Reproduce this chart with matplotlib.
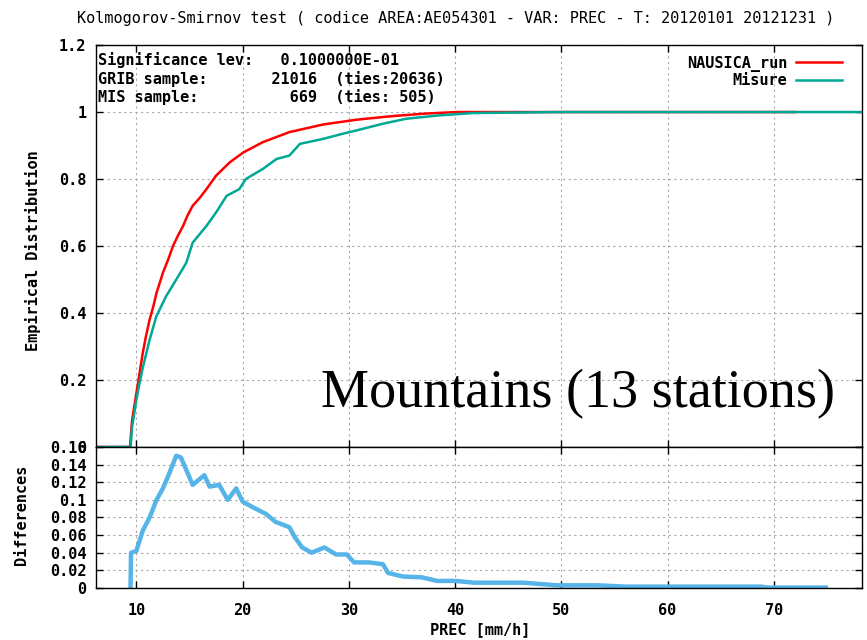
import matplotlib
matplotlib.use("Agg")
import matplotlib.pyplot as plt

# ECDF
run_x = [6.2, 9.4, 9.6, 9.8, 10.0, 10.3, 10.6, 10.9, 11.25, 11.6, 11.9, 12.2, 12.5, 13.0, 13.45,
         13.9, 14.4, 14.8, 15.3, 16.0, 16.6, 17.5, 18.8, 20.1, 21.9, 24.4, 27.6, 30.7,
         33.8, 37.0, 40.1, 72.0]
run_y = [0.0, 0.0, 0.08, 0.12, 0.16, 0.22, 0.28, 0.33, 0.38, 0.42, 0.46, 0.49, 0.52, 0.56, 0.60,
         0.63, 0.66, 0.69, 0.72, 0.745, 0.77, 0.81, 0.85, 0.88, 0.91, 0.94, 0.963, 0.977,
         0.987, 0.995, 1.0, 1.0]

mis_x = [6.2, 9.45, 9.6, 9.8, 10.0, 10.3, 10.63, 11.25, 11.88, 12.8, 13.76, 14.7, 15.3, 16.6,
         17.5, 18.5, 19.7, 20.3, 21.9, 23.2, 24.4, 25.4, 27.6, 29.4, 30.7, 33.2, 35.4,
         38.5, 41.7, 50.0, 78.3]
mis_y = [0.0, 0.0, 0.06, 0.10, 0.14, 0.19, 0.24, 0.32, 0.39, 0.45, 0.50, 0.55, 0.61, 0.66,
         0.70, 0.75, 0.77, 0.80, 0.83, 0.86, 0.87, 0.905, 0.92, 0.935, 0.945, 0.965, 0.98,
         0.99, 0.997, 1.0, 1.0]

diff_x = [9.45, 9.5, 10.0, 10.6, 11.25, 11.9, 12.5, 13.1, 13.75, 14.2, 14.7, 15.3, 15.9, 16.4,
          16.9, 17.8, 18.6, 19.4, 20.0, 20.9, 22.2, 23.1, 24.4, 24.9, 25.6, 26.5, 27.7,
          28.8, 29.8, 30.5, 31.9, 33.2, 33.7, 35.1, 36.9, 38.3, 40.0, 41.8, 46.4, 49.6,
          53.4, 56.2, 68.9, 69.3, 74.9]
diff_y = [0.0, 0.04, 0.042, 0.065, 0.08, 0.10, 0.113, 0.13, 0.15, 0.148, 0.134, 0.117, 0.123,
          0.128, 0.115, 0.117, 0.10, 0.113, 0.098, 0.092, 0.084, 0.075, 0.069, 0.058, 0.046,
          0.04, 0.046, 0.038, 0.038, 0.029, 0.029, 0.027, 0.017, 0.013, 0.012, 0.008,
          0.008, 0.006, 0.006, 0.003, 0.003, 0.0015, 0.0015, 0.0005, 0.0005]

xticks = [10, 20, 30, 40, 50, 60, 70]
top_yticks = [0, 0.2, 0.4, 0.6, 0.8, 1.0, 1.2]
top_ylabels = ["0", "0.2", "0.4", "0.6", "0.8", "1", "1.2"]
bot_yticks = [0, 0.02, 0.04, 0.06, 0.08, 0.1, 0.12, 0.14, 0.16]
bot_ylabels = ["0", "0.02", "0.04", "0.06", "0.08", "0.1", "0.12", "0.14", "0.16"]

info = ["Significance lev:   0.1000000E-01",
        "GRIB sample:       21016  (ties:20636)",
        "MIS sample:          669  (ties: 505)"]

plt.rcParams['font.family'] = ['DejaVu Sans Mono']
plt.rcParams['font.weight'] = 'bold'

fig = plt.figure(figsize=(8.67, 6.4), dpi=100)
ax1 = fig.add_axes([0.1107, 0.3016, 0.8835, 0.628])
ax2 = fig.add_axes([0.1107, 0.0813, 0.8835, 0.2203])

for ax in (ax1, ax2):
    ax.set_xlim(6.2, 78.3)
    ax.set_xticks(xticks)
    ax.grid(color='#a8a8a8', linestyle=(0, (2, 3)), linewidth=0.8)
    ax.set_axisbelow(True)
    ax.tick_params(direction='in', top=True, right=True, length=5, width=1,
                   labelsize=11, pad=7)
    for s in ax.spines.values():
        s.set_linewidth(1)

ax1.plot(run_x, run_y, color='#ff0000', lw=1.8, label='NAUSICA_run')
ax1.plot(mis_x, mis_y, color='#00a896', lw=1.8, label='Misure')
ax1.set_ylim(0, 1.2)
ax1.set_yticks(top_yticks)
ax1.set_yticklabels(top_ylabels)
ax1.tick_params(labelbottom=False)

ax2.plot(diff_x, diff_y, color='#56b4e9', lw=3.2)
ax2.set_ylim(0, 0.16)
ax2.set_yticks(bot_yticks)
ax2.set_yticklabels(bot_ylabels)
ax2.tick_params(axis='x', pad=11)

for i, line in enumerate(info):
    ax1.text(0.003, 0.963 - i * 0.0465, line, transform=ax1.transAxes,
             va='center', ha='left', fontsize=11)

ax1.legend(loc='upper right', bbox_to_anchor=(0.988, 1.0), markerfirst=False,
           frameon=False, fontsize=11, handlelength=3.0, borderaxespad=0.3,
           labelspacing=0.1, handletextpad=0.6)

ax1.text(0.965, 0.0995, "Mountains (13 stations)", transform=ax1.transAxes,
         ha='right', va='baseline', family='Liberation Serif', weight='normal',
         fontsize=39)

fig.text(0.526, 0.971, "Kolmogorov-Smirnov test ( codice AREA:AE054301 - VAR: PREC - T: 20120101 20121231 )",
         ha='center', va='center', fontsize=11, weight='normal')
fig.text(0.038, 0.609, "Empirical Distribution", rotation=90, ha='center', va='center', fontsize=11)
fig.text(0.025, 0.195, "Differences", rotation=90, ha='center', va='center', fontsize=11)
fig.text(0.554, 0.0156, "PREC [mm/h]", ha='center', va='center', fontsize=11)

fig.savefig("out.png", dpi=100)
